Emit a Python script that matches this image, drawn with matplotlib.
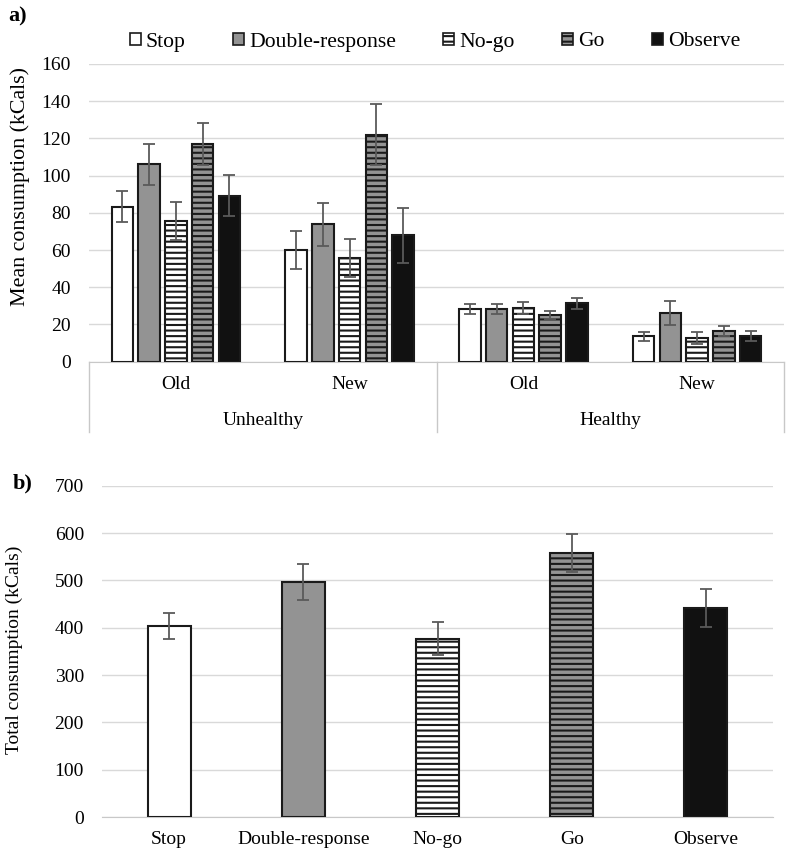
import numpy as np
import matplotlib
matplotlib.use("Agg")
import matplotlib.pyplot as plt
from matplotlib.patches import Patch
from matplotlib.lines import Line2D

plt.rcParams['font.family'] = ['Liberation Serif', 'DejaVu Serif']
plt.rcParams['hatch.linewidth'] = 1.5

# ---- data ----
conditions = ['Stop', 'Double-response', 'No-go', 'Go', 'Observe']
groups = ['Old', 'New', 'Old', 'New']
food_types = ['Unhealthy', 'Healthy']

# mean consumption per group (Unhealthy Old, Unhealthy New, Healthy Old, Healthy New)
stop_mean = [83.3, 60.0, 28.3, 13.6]
double_mean = [106.0, 73.8, 28.3, 26.2]
nogo_mean = [75.6, 55.9, 29.0, 12.5]
go_mean = [117.0, 122.0, 25.1, 16.7]
observe_mean = [89.2, 67.9, 31.5, 13.8]

stop_err = [8.3, 10.4, 2.5, 2.3]
double_err = [11.0, 11.4, 2.5, 6.3]
nogo_err = [10.3, 10.3, 3.2, 3.2]
go_err = [11.4, 16.5, 2.0, 2.7]
observe_err = [11.0, 14.8, 3.0, 2.7]

total_mean = [404, 497, 377, 558, 441]
total_err = [27, 38, 35, 40, 40]

# ---- styles ----
fills = ['white', '#939393', 'white', '#939393', '#111111']
hatches = [None, None, '---', '---', None]
edge = '#1a1a1a'
err_col = '#5a5a5a'
grid_col = '#d9d9d9'
axis_col = '#c8c8c8'
fs = 14

fig = plt.figure(figsize=(7.87, 8.52), dpi=100)

# ================= panel a =================
W, H = 787.0, 852.0
ax1 = fig.add_axes([89 / W, 1 - 361.7 / H, 695 / W, 297.7 / H])
means = [stop_mean, double_mean, nogo_mean, go_mean, observe_mean]
errs = [stop_err, double_err, nogo_err, go_err, observe_err]
x = np.arange(len(groups))
pitch = 0.154
bw = 0.124
for i in range(5):
    pos = x + (i - 2) * pitch
    ax1.bar(pos, means[i], bw, color=fills[i], edgecolor=edge, linewidth=1.5,
            hatch=hatches[i], zorder=3)
    ax1.errorbar(pos, means[i], yerr=errs[i], fmt='none', ecolor=err_col,
                 elinewidth=1.3, capsize=4, capthick=1.3, zorder=4)

ax1.set_xlim(-0.5, 3.5)
ax1.set_ylim(0, 160)
ax1.set_yticks(np.arange(0, 161, 20))
ax1.grid(axis='y', color=grid_col, linewidth=1, zorder=0)
ax1.set_xticks([])
for s in ['top', 'right', 'left']:
    ax1.spines[s].set_visible(False)
ax1.spines['bottom'].set_color(axis_col)
ax1.tick_params(axis='y', length=0, pad=13, labelsize=fs)

# multi-level category axis
trans = ax1.get_xaxis_transform()
for gx, g in zip(x, groups):
    ax1.text(gx, -0.078, g, transform=trans, ha='center', va='center', fontsize=fs)
for k, ft in enumerate(food_types):
    ax1.text(2 * k + 0.5, -0.196, ft, transform=trans, ha='center', va='center', fontsize=fs)
for sx in [-0.5, 1.5, 3.5]:
    ax1.add_line(Line2D([sx, sx], [0, -0.236], transform=trans, color=axis_col,
                        linewidth=1, clip_on=False))

fig.text(20 / W, 1 - 187 / H, 'Mean consumption (kCals)', rotation=90,
         ha='center', va='center', fontsize=15.8)
fig.text(8 / W, 1 - 16 / H, 'a)', fontweight='bold', ha='left', va='center', fontsize=16)

handles = [Patch(facecolor=fills[i], edgecolor=edge, hatch=hatches[i], linewidth=1.2)
           for i in range(5)]
fig.legend(handles, conditions, loc='center', bbox_to_anchor=(435 / W, 1 - 42 / H),
           ncol=5, frameon=False, fontsize=15.6, handlelength=0.5, handleheight=0.5,
           handletextpad=0.23, columnspacing=2.2)

# ================= panel b =================
ax2 = fig.add_axes([102 / W, 1 - 817 / H, 671 / W, 331.3 / H])
xb = np.arange(len(conditions))
for i in range(5):
    ax2.bar(xb[i], total_mean[i], 0.32, color=fills[i], edgecolor=edge, linewidth=1.5,
            hatch=hatches[i], zorder=3)
ax2.errorbar(xb, total_mean, yerr=total_err, fmt='none', ecolor=err_col,
             elinewidth=1.3, capsize=4, capthick=1.3, zorder=4)
ax2.set_xlim(-0.5, 4.5)
ax2.set_ylim(0, 700)
ax2.set_yticks(np.arange(0, 701, 100))
ax2.set_xticks(xb)
ax2.set_xticklabels(conditions)
ax2.grid(axis='y', color=grid_col, linewidth=1, zorder=0)
for s in ['top', 'right', 'left']:
    ax2.spines[s].set_visible(False)
ax2.spines['bottom'].set_color(axis_col)
ax2.tick_params(axis='y', length=0, pad=13, labelsize=fs)
ax2.tick_params(axis='x', length=0, pad=10, labelsize=fs)

fig.text(14 / W, 1 - 650 / H, 'Total consumption (kCals)', rotation=90,
         ha='center', va='center', fontsize=fs)
fig.text(13 / W, 1 - 483 / H, 'b)', fontweight='bold', ha='left', va='center', fontsize=16)

fig.savefig('out.png', dpi=100)
